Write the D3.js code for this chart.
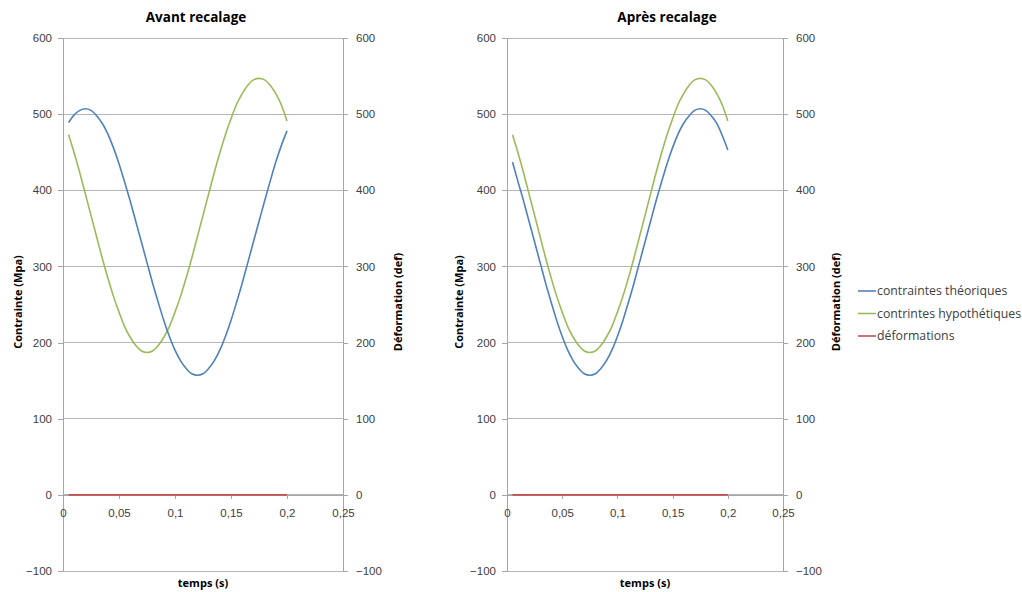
<!DOCTYPE html>
<html><head><meta charset="utf-8">
<script src="https://cdn.jsdelivr.net/npm/d3@7"></script>
<style>
body{margin:0;background:#fff;}
svg{font-family:"Open Sans",sans-serif;}
</style></head>
<body><svg id="c" width="1022" height="592"></svg>
<script>
const time = [0.005,0.01,0.015,0.02,0.025,0.03,0.035,0.04,0.045,0.05,
  0.055,0.06,0.065,0.07,0.075,0.08,0.085,0.09,0.095,0.1,
  0.105,0.11,0.115,0.12,0.125,0.13,0.135,0.14,0.145,0.15,
  0.155,0.16,0.165,0.17,0.175,0.18,0.185,0.19,0.195,0.2];
const avantTheo = [489,499,505,507,505,498,488,474,456,435,411,386,359,332,305,278,253,229,208,190,
  176,166,159,157,159,166,176,190,208,229,253,278,305,332,359,386,412,437,459,478];
const avantHypo = [473,449,423,395,367,339,311,285,261,240,221,207,196,189,187,189,196,207,221,240,
  261,285,311,339,367,395,423,449,473,494,513,527,538,545,547,545,538,527,512,491];
const avantDef = [0,0,0,0,0,0,0,0,0,0,0,0,0,0,0,0,0,0,0,0,0,0,0,0,0,0,0,0,0,0,0,0,0,0,0,0,0,0,0,0];
const apresTheo = [437,411,386,359,332,305,278,253,229,208,190,176,166,159,157,159,166,176,190,208,
  229,253,278,305,332,359,386,411,435,456,474,488,498,505,507,505,498,488,472,453];
const apresHypo = [473,449,423,395,367,339,311,285,261,240,221,207,196,189,187,189,196,207,221,240,
  261,285,311,339,367,395,423,449,473,494,513,527,538,545,547,545,538,527,512,491];
const apresDef = [0,0,0,0,0,0,0,0,0,0,0,0,0,0,0,0,0,0,0,0,0,0,0,0,0,0,0,0,0,0,0,0,0,0,0,0,0,0,0,0];
const yTicks = [-100,0,100,200,300,400,500,600];
const xTicks = [0,0.05,0.1,0.15,0.2,0.25];
const seriesNames = ["contraintes théoriques","contrintes hypothétiques","déformations"];
const colors = ["#4F81BD","#9BBB59","#C0504D"];

const svg = d3.select("#c");
const gridCol = "#b5b5b5", axisCol = "#a6a6a6", txtCol = "#404040";
const fmtX = v => String(v).replace(".", ",");

function chart(cfg){
  const x = d3.scaleLinear().domain([0,0.25]).range([cfg.x0,cfg.x1]);
  const y = d3.scaleLinear().domain([-100,600]).range([571,38]);
  const g = svg.append("g");
  g.selectAll("line.grid").data(yTicks).join("line")
    .attr("x1",cfg.x0).attr("x2",cfg.x1).attr("y1",d=>y(d)).attr("y2",d=>y(d))
    .attr("stroke",gridCol).attr("stroke-width",1).attr("shape-rendering","crispEdges");
  const la = g.append("g").attr("transform",`translate(${cfg.x0},0)`)
    .call(d3.axisLeft(y).tickValues(yTicks).tickSize(5).tickPadding(6).tickSizeOuter(0));
  const ra = g.append("g").attr("transform",`translate(${cfg.x1},0)`)
    .call(d3.axisRight(y).tickValues(yTicks).tickSize(5).tickPadding(8).tickSizeOuter(0));
  const xa = g.append("g").attr("transform",`translate(0,${y(0)})`)
    .call(d3.axisBottom(x).tickValues(xTicks).tickFormat(fmtX).tickSize(4).tickPadding(10).tickSizeOuter(0));
  [la,ra,xa].forEach(a=>{
    a.selectAll("path,line").attr("stroke",axisCol).attr("shape-rendering","crispEdges");
    a.selectAll("text").attr("fill",txtCol).style("font-size","11.5px");
  });
  const line = d3.line().x((d,i)=>x(time[i])).y(d=>y(d)).curve(d3.curveMonotoneX);
  [cfg.def, cfg.hypo, cfg.theo].forEach((s,j)=>{
    const ci = [2,1,0][j];
    g.append("path").datum(s).attr("d",line).attr("fill","none")
      .attr("stroke",colors[ci]).attr("stroke-width",1.6);
  });
  g.append("text").attr("x",cfg.titleX).attr("y",22).attr("text-anchor","middle")
    .attr("font-weight","bold").style("font-size","13.5px").attr("fill","#000").text(cfg.title);
  g.append("text").attr("x",(cfg.x0+cfg.x1)/2).attr("y",587).attr("text-anchor","middle")
    .attr("font-weight","bold").style("font-size","11px").attr("fill","#000").text("temps (s)");
  g.append("text").attr("transform",`translate(${cfg.lLab},302) rotate(-90)`).attr("text-anchor","middle")
    .attr("dy","0.35em").attr("font-weight","bold").style("font-size","11px").attr("fill","#000").text("Contrainte (Mpa)");
  g.append("text").attr("transform",`translate(${cfg.rLab},302) rotate(-90)`).attr("text-anchor","middle")
    .attr("dy","0.35em").attr("font-weight","bold").style("font-size","11px").attr("fill","#000").text("Déformation (def)");
}

chart({x0:63,x1:343,title:"Avant recalage",titleX:196,lLab:18,rLab:398,theo:avantTheo,hypo:avantHypo,def:avantDef});
chart({x0:507,x1:783,title:"Après recalage",titleX:667,lLab:459,rLab:836,theo:apresTheo,hypo:apresHypo,def:apresDef});

const lg = svg.append("g");
const legY = [291,313.5,336];
seriesNames.forEach((n,i)=>{
  lg.append("line").attr("x1",858).attr("x2",876).attr("y1",legY[i]).attr("y2",legY[i])
    .attr("stroke",colors[i]).attr("stroke-width",1.6);
  lg.append("text").attr("x",877).attr("y",legY[i]).attr("dy","0.35em")
    .style("font-size","12.3px").attr("fill",txtCol).text(n);
});
</script></body></html>
